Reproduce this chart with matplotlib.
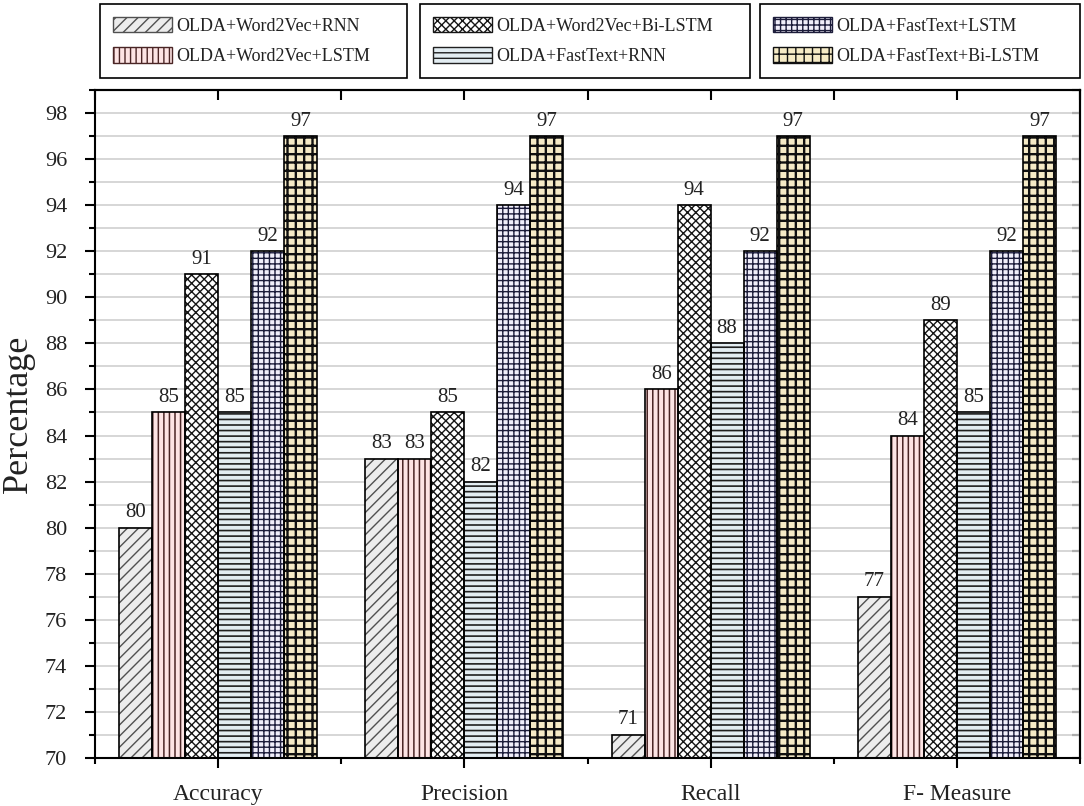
import matplotlib
matplotlib.use("Agg")
import matplotlib.pyplot as plt
import numpy as np
from matplotlib.patches import Patch
from matplotlib.ticker import MultipleLocator, FixedLocator

categories = ["Accuracy", "Precision", "Recall", "F- Measure"]
series_names = ["OLDA+Word2Vec+RNN", "OLDA+Word2Vec+LSTM", "OLDA+Word2Vec+Bi-LSTM",
                "OLDA+FastText+RNN", "OLDA+FastText+LSTM", "OLDA+FastText+Bi-LSTM"]
w2v_rnn = [80, 83, 71, 77]
w2v_lstm = [85, 83, 86, 84]
w2v_bilstm = [91, 85, 94, 89]
ft_rnn = [85, 82, 88, 85]
ft_lstm = [92, 94, 92, 92]
ft_bilstm = [97, 97, 97, 97]
series = [w2v_rnn, w2v_lstm, w2v_bilstm, ft_rnn, ft_lstm, ft_bilstm]
yticks = list(range(70, 99, 2))

fills = ["#ececec", "#fde4e4", "#ffffff", "#e3edf2", "#f0eefa", "#f6ebc6"]
hatch_cols = ["#505050", "#4a2525", "#151515", "#202020", "#1c1c3a", "#101010"]
hatches = ["///", "|||", "xxxx", "---", "+++", "++"]
hatch_lw = [1.0, 1.1, 1.0, 1.2, 1.0, 1.7]

plt.rcParams['font.family'] = ['Liberation Serif', 'DejaVu Serif']

fig = plt.figure(figsize=(10.84, 8.06), dpi=100)
ax = fig.add_axes([95/1084, 48/806, (1080-95)/1084, (758-90)/806])

x = np.arange(len(categories))
bw = 0.134
for i, vals in enumerate(series):
    pos = x + (i - 2.5) * bw
    with plt.rc_context({'hatch.linewidth': hatch_lw[i]}):
        ax.bar(pos, np.array(vals) - 70, bw, bottom=70, color=fills[i],
               edgecolor=hatch_cols[i], hatch=hatches[i], linewidth=0, zorder=2)
    ax.bar(pos, np.array(vals) - 70, bw, bottom=70, fill=False,
           edgecolor="black", linewidth=1.2, zorder=3)
    for p, v in zip(pos, vals):
        ax.annotate(f"{v}", (p, v), xytext=(0, 4), textcoords="offset points",
                    ha="center", va="bottom", fontsize=15, color="#222222")

ax.set_xlim(-0.5, 3.5)
ax.set_ylim(70, 99)
ax.set_yticks(yticks)
ax.yaxis.set_minor_locator(MultipleLocator(1))
ax.set_xticks(x)
ax.set_xticklabels(categories)
ax.xaxis.set_minor_locator(FixedLocator([-0.5, 0.5, 1.5, 2.5, 3.5]))
ax.grid(True, axis="y", which="both", color="#d0d0d0", linewidth=1.2, zorder=0)
ax.set_axisbelow(True)
ax.tick_params(axis="both", which="major", labelsize=16, width=1.5, length=7, direction="out",
               colors="black", labelcolor="#222222")
ax.tick_params(axis="both", which="minor", width=1.5, length=4.5, direction="out")
ax.tick_params(axis="x", which="major", pad=12, labelsize=17)
ax.tick_params(axis="y", which="major", pad=13)
for s in ax.spines.values():
    s.set_linewidth(1.5)

# top and right ticks inward
axt = ax.secondary_xaxis("top")
axt.set_xticks(x)
axt.set_xticklabels([])
axt.xaxis.set_minor_locator(FixedLocator([-0.5, 0.5, 1.5, 2.5, 3.5]))
axt.tick_params(which="major", direction="in", length=7, width=1.5)
axt.tick_params(which="minor", direction="in", length=7, width=1.5)
axt.spines["top"].set_linewidth(1.5)
axr = ax.secondary_yaxis("right")
axr.set_yticks(yticks)
axr.set_yticklabels([])
axr.yaxis.set_minor_locator(MultipleLocator(1))
axr.tick_params(which="major", direction="in", length=6, width=1.5)
axr.tick_params(which="minor", direction="in", length=6, width=1.5)
axr.spines["right"].set_linewidth(1.5)

ax.set_ylabel("Percentage", fontsize=26, color="#222222")
ax.yaxis.set_label_coords(-60/985, 0.515)

# legends
boxes = [(100, 407), (420, 750), (760, 1080)]
for k, (x0, x1) in enumerate(boxes):
    handles = []
    for j in (2 * k, 2 * k + 1):
        with plt.rc_context({'hatch.linewidth': hatch_lw[j]}):
            handles.append(Patch(facecolor=fills[j], edgecolor=hatch_cols[j], hatch=hatches[j],
                                 linewidth=1.0, label=series_names[j]))
    leg = fig.legend(handles=handles, loc="upper left",
                     bbox_to_anchor=(x0/1084, 1 - 80/806, (x1 - x0)/1084, 76/806),
                     mode="expand", ncol=1, fontsize=13, frameon=True, fancybox=False,
                     edgecolor="black", framealpha=1, handlelength=3.3, handleheight=0.95,
                     handletextpad=0.2, labelspacing=0.7, borderaxespad=0, borderpad=0.7)
    leg.get_frame().set_linewidth(1.2)
    for t in leg.get_texts():
        t.set_color("#222222")

fig.savefig("out.png", dpi=100)
